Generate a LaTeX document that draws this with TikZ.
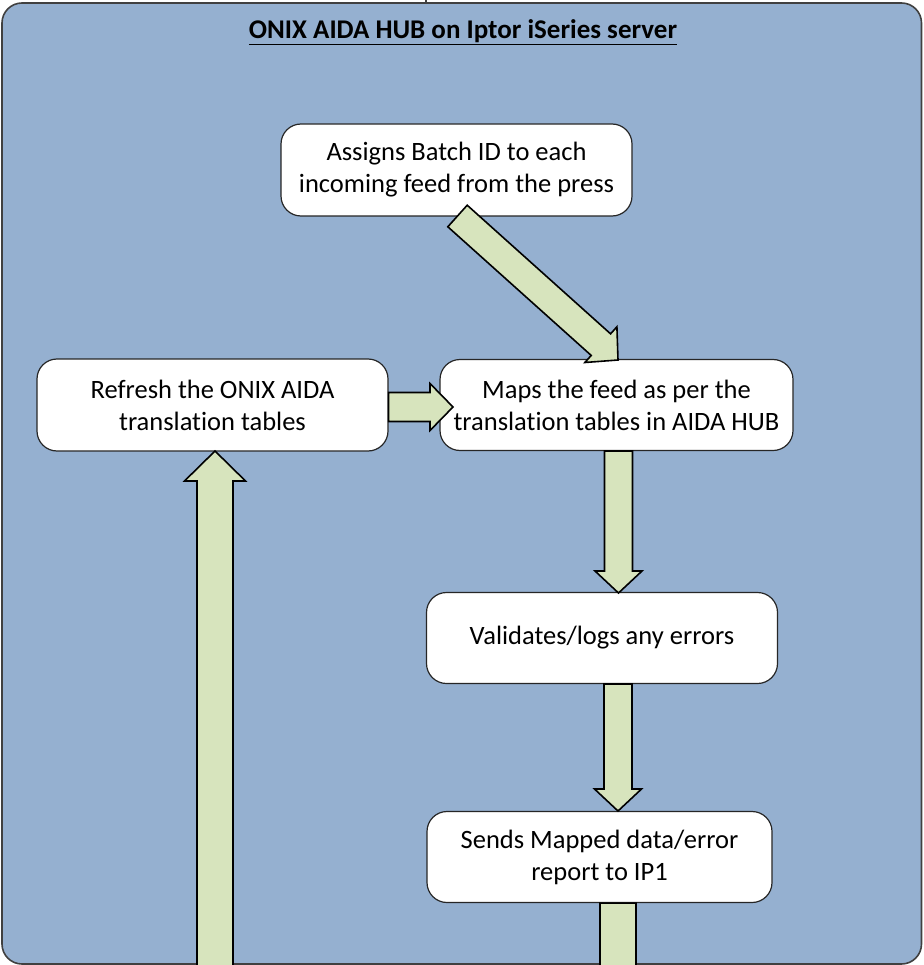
\documentclass[tikz,border=0pt]{standalone}
\usepackage{fontspec}
\setmainfont[Ligatures=NoCommon]{Carlito}
\usetikzlibrary{calc}
\definecolor{bgblue}{RGB}{149,176,208}
\definecolor{arrowgreen}{RGB}{215,228,189}
\definecolor{framegray}{RGB}{64,64,64}
\newcommand\blockarrow[5]{%
  \coordinate (ba-h) at ($(#2)!#5!(#1)$);
  \filldraw[blockarrow] ($(#1)!#3!90:(#2)$) -- ($(ba-h)!#3!90:(#2)$) -- ($(ba-h)!#4!90:(#2)$) -- (#2) -- ($(ba-h)!#4!-90:(#2)$) -- ($(ba-h)!#3!-90:(#2)$) -- ($(#1)!#3!-90:(#2)$) -- cycle;
}
\begin{document}
\begin{tikzpicture}[x=1pt,y=-1pt,
  container/.style={draw=framegray,fill=bgblue,line width=1.6pt,rounded corners=20pt},
  procbox/.style={draw=black!85,fill=white,line width=1.2pt,rounded corners=20pt,align=center,
    inner sep=0pt,font=\fontsize{26.5}{32}\selectfont},
  blockarrow/.style={draw=black,fill=arrowgreen,line width=1.6pt,line join=miter},
  titletext/.style={font=\bfseries\fontsize{27}{32}\selectfont,anchor=base}]
\useasboundingbox (0,0) rectangle (923,965);
\begin{scope}
\clip (0,0) rectangle (923,965);
\draw[container] (2,3) rectangle (921.5,964);
\coordinate (tickA) at (426,0);
\coordinate (tickB) at (426,4);
\draw[framegray,line width=1.2pt] (tickA) -- (tickB);
\node[titletext] (title) at (463,38.5) {\underline{ONIX AIDA HUB on Iptor iSeries server}};
\node[procbox,minimum width=351pt,minimum height=92pt] (assign) at (456.5,170) {Assigns Batch ID to each\\incoming feed from the press};
\node[procbox,minimum width=351pt,minimum height=92pt] (refresh) at (212.5,405) {Refresh the ONIX AIDA\\translation tables};
\node[procbox,minimum width=353pt,minimum height=91pt] (maps) at (616.5,405) {Maps the feed as per the\\translation tables in AIDA HUB};
\node[procbox,minimum width=351pt,minimum height=91pt] (valid) at (602,638) {Validates/logs any errors};
\node[procbox,minimum width=345pt,minimum height=91pt] (sends) at (599.5,857) {Sends Mapped data/error\\report to IP1};
% arrow end points
\coordinate (d1a) at (457.5,216);
\coordinate (d1b) at (618,360);
\coordinate (r1a) at (refresh.east |- 0,407);
\coordinate (r1b) at (453,407);
\coordinate (v1a) at (618.5,451);
\coordinate (v1b) at (618.5,593);
\coordinate (v2a) at (618,684);
\coordinate (v2b) at (618,811);
\coordinate (v3a) at (sends.south -| 618,0);
\coordinate (v3b) at (618,1040);
\coordinate (u1a) at (215,1010);
\coordinate (u1b) at (215,451);
\blockarrow{d1a}{d1b}{14.5pt}{24pt}{23pt}
\blockarrow{r1a}{r1b}{14.5pt}{23.5pt}{23pt}
\blockarrow{v1a}{v1b}{14pt}{23.5pt}{22pt}
\blockarrow{v2a}{v2b}{14pt}{23.5pt}{22pt}
\blockarrow{v3a}{v3b}{18pt}{30pt}{30pt}
\blockarrow{u1a}{u1b}{18pt}{30.5pt}{30pt}
\end{scope}
\end{tikzpicture}
\end{document}
